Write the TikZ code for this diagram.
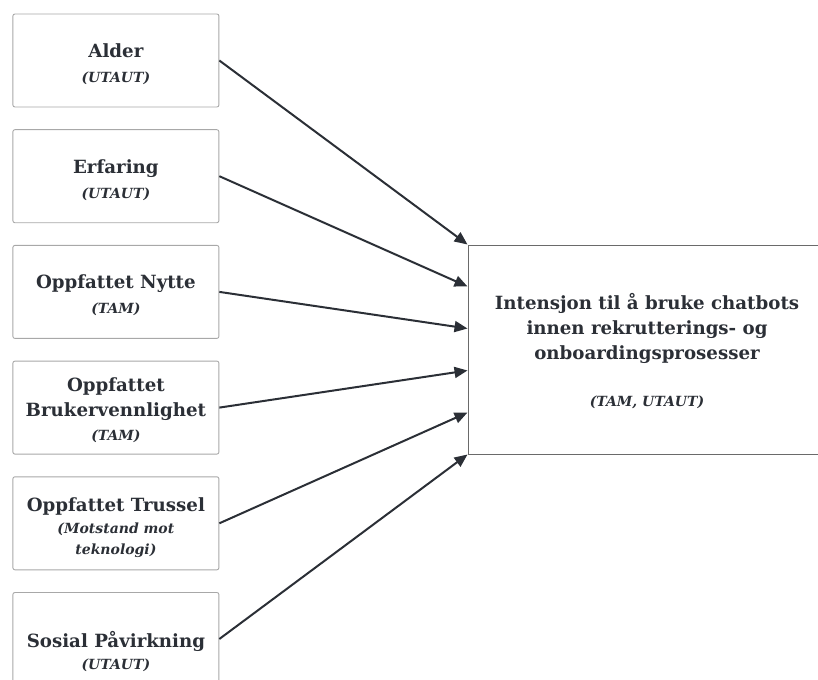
\documentclass[tikz,border=0pt]{standalone}
\usepackage{fontspec}
\setmainfont{DejaVu Serif}
\usetikzlibrary{arrows.meta,calc}
\definecolor{ink}{HTML}{2B2F36}
\definecolor{boxline}{HTML}{A8A8A8}
\definecolor{bigline}{HTML}{6A6A6A}
\newcommand{\subfont}{\fontsize{14}{21}\selectfont\itshape}
\begin{document}
\begin{tikzpicture}[x=1pt,y=-1pt,
  src/.style={draw=boxline, line width=0.9pt, rounded corners=2pt,
    minimum width=206pt, minimum height=93pt, inner sep=0pt},
  plain/.style={inner sep=0pt, align=center, text=ink,
    font=\fontsize{18.2}{25}\selectfont\bfseries},
  tgtbox/.style={draw=bigline, line width=1pt, minimum width=358pt,
    minimum height=209pt, inner sep=0pt},
  link/.style={draw=ink, line width=2pt,
    -{Triangle[length=13pt,width=11pt]}}]
\useasboundingbox (0,0) rectangle (818,679);
\node[src] (b1) at (115.9,60.5) {};
\node[src] (b2) at (115.9,176.2) {};
\node[src] (b3) at (115.9,291.9) {};
\node[src] (b4) at (115.9,407.6) {};
\node[src] (b5) at (115.9,523.3) {};
\node[src] (b6) at (115.9,639) {};
\node[tgtbox] (tg) at (647,349.5) {};
\node[plain] (t1) at ([yshift=-3.5pt]b1.center) {Alder\\{\subfont (UTAUT)}};
\node[plain] (t2) at ([yshift=-3.5pt]b2.center) {Erfaring\\{\subfont (UTAUT)}};
\node[plain] (t3) at ([yshift=-3.5pt]b3.center) {Oppfattet Nytte\\{\subfont (TAM)}};
\node[plain] (t4) at ([yshift=-3pt]b4.center) {Oppfattet\\Brukervennlighet\\[-1pt]{\subfont (TAM)}};
\node[plain] (t5) at ([yshift=-4.5pt]b5.center) {Oppfattet Trussel\\[-3pt]{\subfont (Motstand mot}\\[-4pt]{\subfont teknologi)}};
\node[plain] (t6) at ([yshift=-12pt]b6.center) {Sosial Påvirkning\\[-3pt]{\subfont (UTAUT)}};
\node[plain] (tt) at ([yshift=-2pt]tg.center) {Intensjon til å bruke chatbots\\innen rekrutterings- og\\onboardingsprosesser\\[22pt]{\subfont (TAM, UTAUT)}};
\foreach \i/\k in {1/0,2/1,3/2,4/3,5/4,6/5}{
  \coordinate (e\i) at ($(tg.north west)!\k/5!(tg.south west)$);
  \draw[link] (b\i.east) -- (e\i);
}
\end{tikzpicture}
\end{document}
